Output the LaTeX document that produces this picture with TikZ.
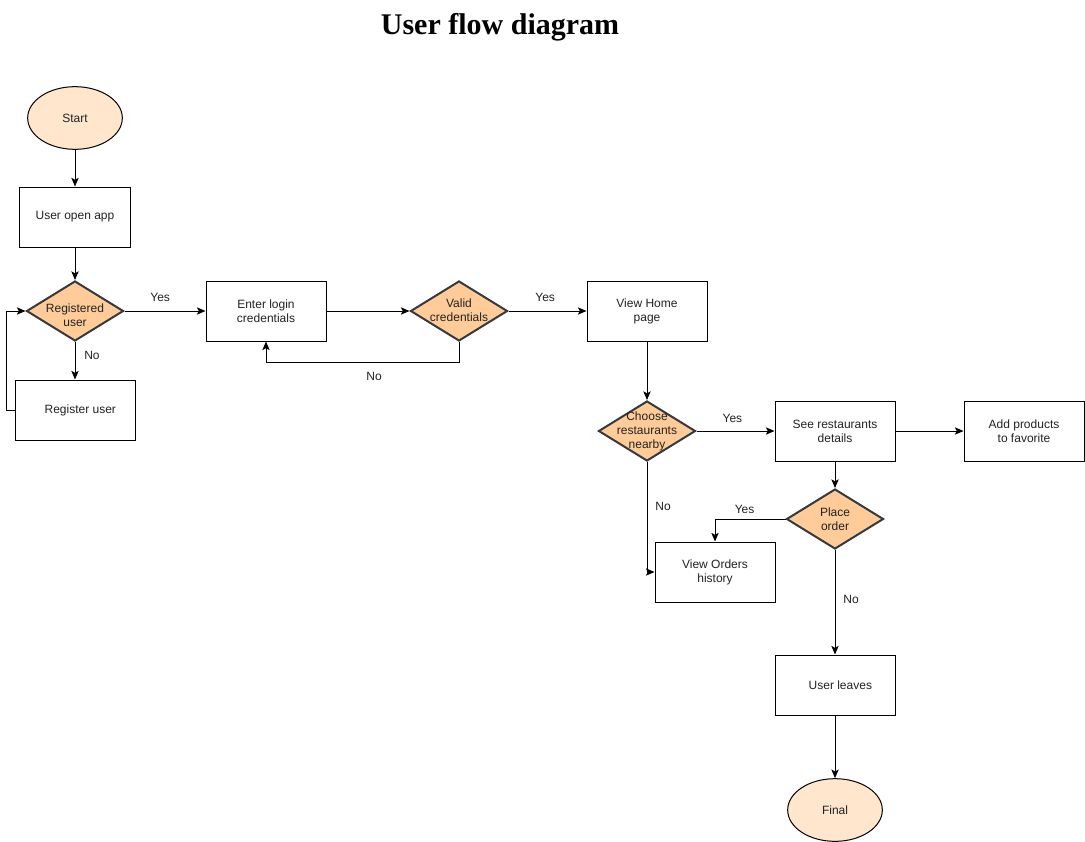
\documentclass[tikz,border=0pt]{standalone}
\usepackage{fontspec}
\setmainfont{Liberation Sans}
\newfontfamily\titlefont{Liberation Serif}
\usetikzlibrary{arrows.meta,shapes.geometric}

\definecolor{termfill}{HTML}{FFE6CC}
\definecolor{decfill}{HTML}{FFCC99}
\definecolor{decline}{HTML}{36393D}
\definecolor{txt}{HTML}{222222}

\begin{document}
\begin{tikzpicture}[x=0.75pt, y=-0.75pt,
  font=\fontsize{9}{10.5}\selectfont,
  terminal/.style={ellipse, draw=black, fill=termfill, line width=0.75pt,
    minimum width=71pt, minimum height=47pt, text=txt},
  process/.style={rectangle, draw=black, line width=0.75pt, fill=white,
    minimum width=90pt, minimum height=45pt, align=center, text=txt},
  decision/.style={diamond, draw=decline, fill=decfill, line width=1.5pt,
    minimum width=72.75pt, minimum height=45pt, inner sep=0pt},
  dtext/.style={align=center, text=txt, inner sep=0pt},
  flow/.style={-{Stealth[length=6.5pt, width=5.5pt, inset=1.5pt]}, line width=0.75pt},
  lbl/.style={text=txt, inner sep=0pt}]

% page
\fill[white] (0,0) rectangle (1085,842);
\useasboundingbox (0,0) rectangle (1085,842);

% title
\node[font=\titlefont\bfseries\fontsize{22.5}{27}\selectfont] (title) at (500,27) {User flow diagram};

% start and login column
\node[terminal] (start) at (75,118) {Start};
\node[process, minimum width=83pt] (open) at (75,217) {User open app};
\node[decision] (reg) at (75,311) {};
\node[dtext] (reg-t) at (75,315) {Registered\\user};
\node[process] (regu) at (75,410) {\hspace{8pt}Register user};
\node[process] (login) at (266,311) {Enter login\\credentials};
\node[decision] (valid) at (459,311) {};
\node[dtext] (valid-t) at (459,310) {Valid\\credentials};
\node[process] (home) at (647,311) {View Home\\page};

% restaurants
\node[decision] (choose) at (647,431) {};
\node[dtext] (choose-t) at (647,431) {Choose\\restaurants\\nearby};
\node[process] (see) at (835,431) {See restaurants\\details};
\node[process] (fav) at (1024,431) {Add products\\to favorite};
\node[decision] (place) at (835,519) {};
\node[dtext] (place-t) at (835,519) {Place\\order};
\node[process] (orders) at (715,572) {View Orders\\history};
\node[process] (leaves) at (835,685) {\hspace{8pt}User leaves};
\node[terminal] (final) at (835,810) {Final};

% connectors
\draw[flow] (start) -- (open);
\draw[flow] (open) -- (reg);
\draw[flow] (reg) -- node[lbl, pos=0.36, xshift=12.75pt] (no1) {No} (regu);
\draw[flow] (regu.west) -- ++(-8,0) |- (reg.west);
\draw[flow] (reg) -- node[lbl, pos=0.44, yshift=10.5pt] (yes1) {Yes} (login);
\draw[flow] (login) -- (valid);
\draw[flow] (valid.south) -- ++(0,20) -| node[lbl, pos=0.22, yshift=-10.5pt] (no2) {No} (login.south);
\draw[flow] (valid) -- node[lbl, pos=0.47, yshift=10.5pt] (yes2) {Yes} (home);
\draw[flow] (home) -- (choose);
\draw[flow] (choose) -- node[lbl, pos=0.46, yshift=9.75pt] (yes3) {Yes} (see);
\draw[flow] (see) -- (fav);
\draw[flow] (see) -- (place);
\draw[flow] (choose.south) |- node[lbl, pos=0.2, xshift=12pt] (no3) {No} (orders.west);
\draw[flow] (place.west) -| node[lbl, pos=0.29, yshift=7pt] (yes4) {Yes} (orders.north);
\draw[flow] (place) -- node[lbl, pos=0.47, xshift=12pt] (no4) {No} (leaves);
\draw[flow] (leaves) -- (final);

\end{tikzpicture}
\end{document}
